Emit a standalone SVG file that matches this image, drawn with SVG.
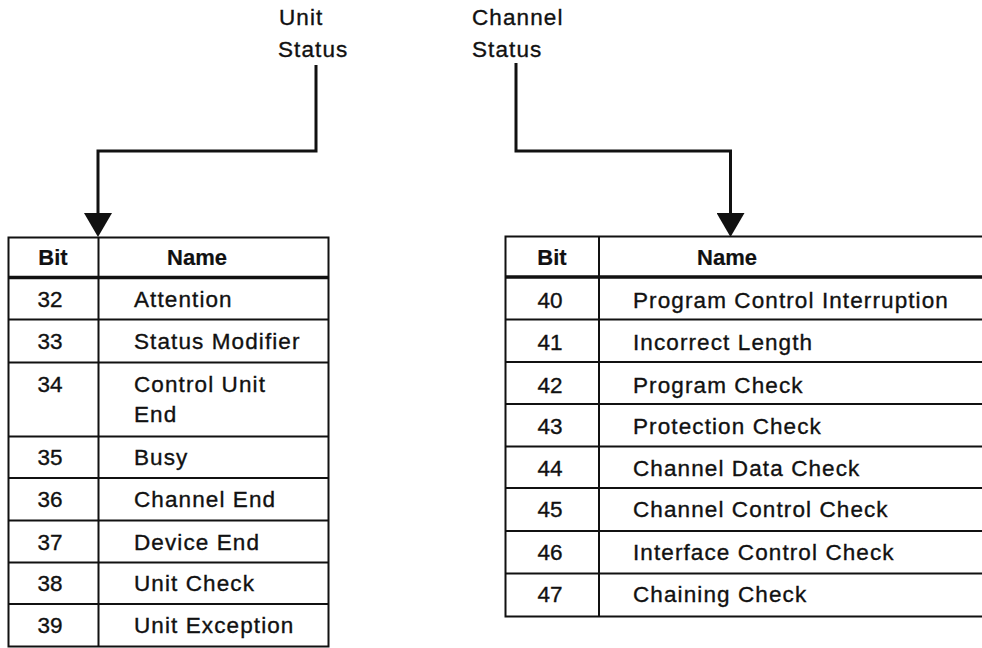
<svg xmlns="http://www.w3.org/2000/svg" width="982" height="648" viewBox="0 0 982 648">
<style>
text{font-family:"Liberation Sans",Arial,sans-serif;font-size:22.5px;letter-spacing:1.1px;fill:#111;stroke:#111;stroke-width:0.35px}
.h{font-weight:bold;text-anchor:middle;letter-spacing:0;font-size:22px;stroke-width:0.2px}
.n{text-anchor:middle;letter-spacing:0}
.ln{stroke:#111;stroke-width:2;fill:none}
.hd{stroke:#111;stroke-width:3.5;fill:none}
.cn{stroke:#111;stroke-width:3;fill:none}
</style>
<defs>
<marker id="arr" markerUnits="userSpaceOnUse" viewBox="0 0 24 28" refX="17" refY="14" markerWidth="24" markerHeight="28" orient="auto">
<path d="M0,0 L24,14 L0,28 Z" fill="#111"/>
</marker>
</defs>
<rect width="982" height="648" fill="#fff"/>

<g id="label-unit-status">
<text x="279" y="25">Unit</text>
<text x="278" y="57">Status</text>
</g>
<g id="label-channel-status">
<text x="472" y="25">Channel</text>
<text x="472" y="57">Status</text>
</g>

<g id="connectors">
<path class="cn" d="M316,65 V151 H98 V230" marker-end="url(#arr)"/>
<path class="cn" d="M516,63 V151 H730.5 V230" marker-end="url(#arr)"/>
</g>

<g id="unit-status-table">
<rect class="ln" x="8.5" y="237.5" width="320" height="409"/>
<line class="ln" x1="98.5" y1="237.5" x2="98.5" y2="646.5"/>
<line class="hd" x1="8.5" y1="277.5" x2="328.5" y2="277.5"/>
<g class="ln">
<line x1="8.5" y1="319.5" x2="328.5" y2="319.5"/>
<line x1="8.5" y1="362.5" x2="328.5" y2="362.5"/>
<line x1="8.5" y1="436.5" x2="328.5" y2="436.5"/>
<line x1="8.5" y1="478" x2="328.5" y2="478"/>
<line x1="8.5" y1="520.5" x2="328.5" y2="520.5"/>
<line x1="8.5" y1="562.5" x2="328.5" y2="562.5"/>
<line x1="8.5" y1="604" x2="328.5" y2="604"/>
</g>
<text class="h" x="53" y="265">Bit</text>
<text class="h" x="197" y="265">Name</text>
<text class="n" x="50" y="307">32</text><text x="134" y="307">Attention</text>
<text class="n" x="50" y="349">33</text><text x="134" y="349">Status Modifier</text>
<text class="n" x="50" y="392">34</text><text x="134" y="392">Control Unit</text>
<text x="134" y="422">End</text>
<text class="n" x="50" y="465">35</text><text x="134" y="465">Busy</text>
<text class="n" x="50" y="507">36</text><text x="134" y="507">Channel End</text>
<text class="n" x="50" y="549.5">37</text><text x="134" y="549.5">Device End</text>
<text class="n" x="50" y="591">38</text><text x="134" y="591">Unit Check</text>
<text class="n" x="50" y="633">39</text><text x="134" y="633">Unit Exception</text>
</g>

<g id="channel-status-table">
<polyline class="ln" points="982,236.5 505.5,236.5 505.5,616.5 982,616.5"/>
<line class="ln" x1="599" y1="236.5" x2="599" y2="616.5"/>
<line class="hd" x1="505.5" y1="277" x2="982" y2="277"/>
<g class="ln">
<line x1="505.5" y1="319.5" x2="982" y2="319.5"/>
<line x1="505.5" y1="362" x2="982" y2="362"/>
<line x1="505.5" y1="404" x2="982" y2="404"/>
<line x1="505.5" y1="446.5" x2="982" y2="446.5"/>
<line x1="505.5" y1="488" x2="982" y2="488"/>
<line x1="505.5" y1="531" x2="982" y2="531"/>
<line x1="505.5" y1="573.5" x2="982" y2="573.5"/>
</g>
<text class="h" x="552" y="265">Bit</text>
<text class="h" x="727" y="265">Name</text>
<text class="n" x="550" y="307.5">40</text><text x="633" y="307.5">Program Control Interruption</text>
<text class="n" x="550" y="350">41</text><text x="633" y="350">Incorrect Length</text>
<text class="n" x="550" y="392.5">42</text><text x="633" y="392.5">Program Check</text>
<text class="n" x="550" y="433.5">43</text><text x="633" y="433.5">Protection Check</text>
<text class="n" x="550" y="475.5">44</text><text x="633" y="475.5">Channel Data Check</text>
<text class="n" x="550" y="517">45</text><text x="633" y="517">Channel Control Check</text>
<text class="n" x="550" y="559.5">46</text><text x="633" y="559.5">Interface Control Check</text>
<text class="n" x="550" y="602">47</text><text x="633" y="602">Chaining Check</text>
</g>
</svg>
